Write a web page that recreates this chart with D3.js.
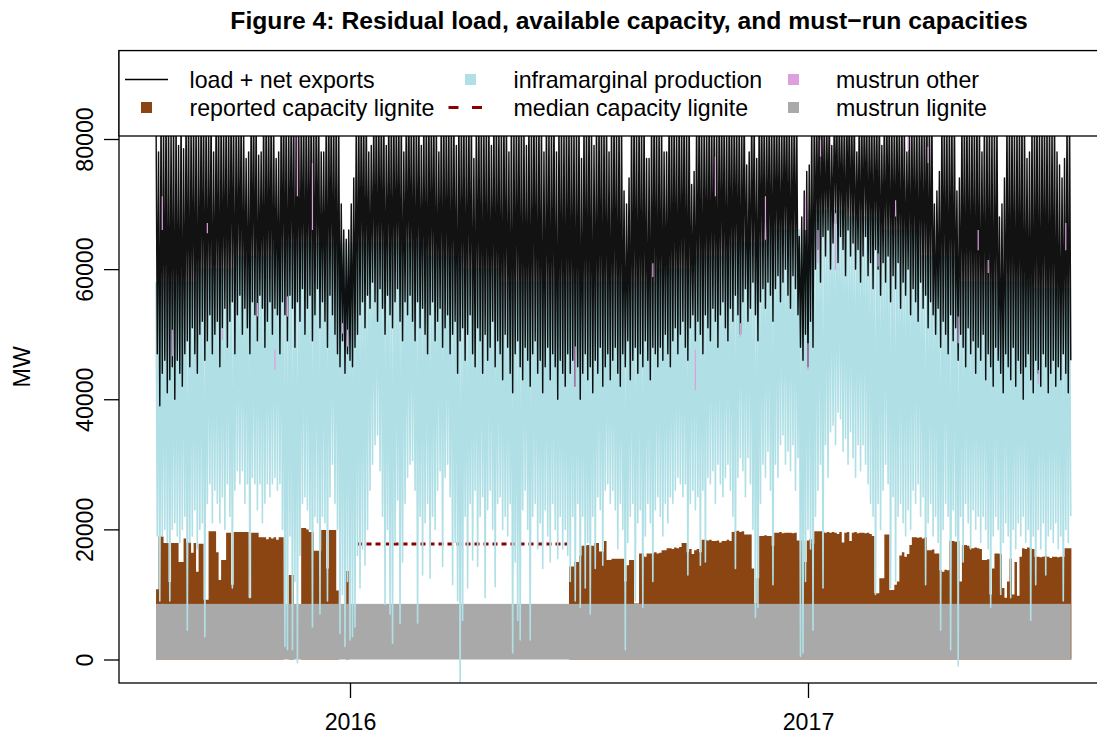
<!DOCTYPE html>
<html>
<head>
<meta charset="utf-8">
<script src="https://cdn.jsdelivr.net/npm/d3@7"></script>
<style>
  body { margin: 0; background: #fff; }
  svg { display: block; font-family: "Liberation Sans", Arial, Helvetica, sans-serif; }
</style>
</head>
<body>
<svg id="chart" width="1097" height="737"></svg>
<script>
// one sample every 2nd day from 2015-07-30, values in GW
var startDate = new Date(Date.UTC(2015, 6, 30));
var stepDays = 2;

// load + net exports: daily peak and daily low
var loadPeak = [
  84, 78, 85, 83, 86, 84, 82, 85, 84, 79,
  85, 78.5, 84, 86, 83, 85, 84, 82, 85, 86,
  84, 83, 85, 78, 84, 86, 85, 83, 84, 85,
  86, 84, 83, 85, 84, 82, 77, 78, 85, 86,
  84, 77.5, 78, 85, 86, 84, 85, 83, 77, 78,
  85, 86, 84, 83, 85, 86, 84, 85, 83, 86,
  85, 84, 86, 83, 85, 84, 78, 78, 84, 86,
  85, 84, 86, 83, 70, 66, 64.6, 66, 70, 74,
  83, 85, 86, 84, 85, 78, 79, 84, 86, 85,
  84, 86, 79, 85, 84, 86, 83, 85, 84, 78,
  85, 86, 84, 85, 83, 86, 79, 84, 85, 86,
  84, 85, 83, 78, 86, 84, 85, 83, 86, 84,
  79, 85, 84, 86, 83, 85, 84, 77, 85, 84,
  86, 83, 85, 84, 79, 85, 86, 83, 84, 85,
  84, 78, 85, 83, 86, 84, 85, 83, 79, 85,
  84, 86, 83, 85, 84, 78, 85, 83, 84, 86,
  78, 84, 85, 83, 86, 84, 85, 83, 84, 85,
  77, 84, 85, 86, 83, 79, 84, 85, 86, 84,
  85, 78, 84, 86, 83, 85, 84, 72, 70, 74,
  84, 86, 83, 85, 84, 85, 77, 77, 84, 86,
  85, 83, 84, 78, 78, 85, 86, 84, 83, 85,
  84, 86, 83, 85, 73, 75, 84, 86, 85, 83,
  84, 85, 86, 83, 84, 85, 86, 84, 83, 85,
  86, 84, 85, 83, 84, 86, 76, 78, 85, 84,
  77, 85, 86, 84, 83, 85, 84, 86, 85, 83,
  84, 85, 86, 84, 83, 85, 84, 65, 68, 72,
  75, 76, 83, 85, 84, 86, 85, 84, 83, 85,
  79, 84, 86, 85, 83, 84, 85, 86, 84, 85,
  78, 85, 84, 86, 83, 85, 84, 85, 83, 86,
  79, 84, 85, 86, 83, 84, 85, 84, 86, 83,
  78, 85, 84, 86, 83, 85, 84, 85, 86, 84,
  85, 70, 72, 75, 84, 86, 83, 85, 84, 85,
  72, 74, 84, 86, 85, 83, 84, 85, 86, 84,
  78, 85, 84, 86, 83, 85, 84, 68, 70, 74,
  84, 86, 85, 83, 84, 85, 86, 84, 77, 78,
  84, 85, 86, 83, 84, 85, 84, 86, 83, 85,
  78, 76, 74, 77, 84, 85
];
var loadLow = [
  47, 39, 44, 46, 41, 43, 45, 40, 46, 44, 42, 47,
  49, 45, 51, 47, 44, 50, 52, 46, 49, 53, 47, 50, 52, 45,
  51, 54, 48, 52, 55, 47, 53, 56, 50, 54, 51, 47, 55, 53, 49, 56, 54, 48, 52, 55, 50, 54, 53, 47, 55,
  53, 49, 56, 54, 48, 55, 52, 57, 50, 54, 56, 49, 53, 57, 51, 55, 52, 48, 56, 53, 50, 47, 45, 49, 44, 47, 46,
  45, 48, 50, 53, 55, 51, 56, 54, 58, 55, 52, 57, 54, 50, 56, 53, 51, 55, 57, 52, 49, 55, 53,
  56, 52, 49, 55, 51, 54, 50, 47, 53, 55, 49, 52, 54, 48, 51, 53, 47, 50, 52, 44, 49, 51, 46, 50, 53, 47, 45, 51, 49, 44,
  50, 46, 48, 52, 45, 49, 47, 43, 50, 48, 44, 41, 47, 49, 45, 43, 48, 46, 42, 47, 49, 44, 46, 41, 45, 48, 43, 47, 45, 40, 46, 44, 42, 47,
  44, 46, 42, 45, 40, 44, 47, 43, 45, 41, 46, 44, 48, 42, 45, 47, 43, 46, 48, 44, 42, 47, 45, 49, 43, 46, 48, 44, 47, 45, 49, 46, 43, 48, 47, 45,
  48, 46, 50, 47, 45, 49, 51, 47, 50, 52, 48, 46, 51, 53, 49, 52, 50, 47, 53, 51, 49, 54, 52, 48, 53, 55, 51, 49, 54, 52,
  56, 53, 50, 55, 57, 52, 54, 58, 53, 49, 55, 57, 54, 58, 56, 52, 57, 59, 55, 58, 60, 56, 54, 59, 57, 53, 48, 46, 50, 45,
  52, 48, 60, 63, 58, 65, 62, 66, 60, 64, 67, 61, 65, 63, 59, 66, 62, 64, 60, 63, 58, 62, 65, 59, 61, 57, 63, 60, 56, 61,
  58, 62, 55, 59, 57, 61, 54, 58, 56, 60, 53, 57, 55, 52, 58, 54, 56, 51, 55, 53, 50, 54, 48, 52, 50, 47, 53, 49, 51, 46,
  50, 48, 45, 51, 47, 49, 44, 48, 46, 50, 43, 47, 45, 42, 48, 46, 44, 41, 47, 45,
  43, 48, 42, 46, 44, 40, 45, 47, 43, 41, 46, 44, 42, 47, 45, 41, 44, 46, 42, 45,
  43, 47, 44, 41, 46
];

// inframarginal production: daily low, and peak by month (Jul 2015 .. Jul 2017)
var inframarginalLow = [
  19, 9, 19, 20, 18, 9, 20, 21, 19, 18,
  20, 22, 4.5, 18, 19, 23, 17, 20, 21, 3.5,
  24, 27, 21, 26, 24, 21, 25, 20, 27, 22,
  11, 26, 29, 27, 29, 24, 27, 9.5, 28, 27,
  23, 27, 21, 24, 27, 25, 27, 28, 26, 27,
  20, 2, 1.5, 19, 1.5, 12, -0.5, 16, 24, 25,
  23, 20, 5, 22, 21, 7, 22, 21, 9, 25,
  30, 24, 20, 4, 10, 2, 12, 3,
  3.5, 5, 16, 11, 17, 14.5, 20, 26, 30, 33,
  34.5, 29, 22, 8.5, 20, 7, 2.5, 18, 24.5, 5.5,
  15, 24, 28, 30, 30.6, 26, 5.6, 22, 13, 21,
  24, 12.5, 22, 20, 26, 29, 14.3, 28, 30, 25,
  11.5, 18, 9, -5, 6, 22, 11, 24, 15.3, 26,
  14.3, 22, 25, 9.5, 23, 26, 20, 11.2, 24, 25,
  20, 22, 19, 24, 1, 15, 6, 3, 23, 26,
  20, 3, 22, 24, 17, 21, 14, 23, 19, 15,
  24, 20, 15.5, 22, 17, 20, 16,
  12, 22, 9, 24, 8, 22, 11, 18, 7, 22,
  14, 25, 23, 14.5, 26, 27, 24, 26, 23, 17,
  24, 20, 1.5, 18, 22, 24, 9, 21, 23, 8,
  19, 24, 21, 12, 23, 25, 22, 19, 24, 21,
  25, 24, 26, 28, 27, 25, 27, 13, 24, 26,
  23, 25, 14.5, 26, 15, 28, 27, 29, 24, 30,
  27, 25, 28, 30, 26, 22, 14, 28, 31, 29,
  25, 31, 27, 20, 6.5, 8, 24, 30, 28, 32,
  26, 11.5, 30, 28, 33, 34.5, 30, 32, 29, 33,
  26, 31, 0.5, 1, 12, 20,
  17, 4.5, 22, 26, 30, 11, 33, 28, 35, 36,
  33, 38, 37, 32, 34, 30, 35, 31, 28, 33,
  29, 33, 30, 27, 24, 22, 10, 24, 20, 26,
  30, 27, 11, 25, 12, 22, 24, 21, 19, 23,
  20, 26, 24, 27, 22, 25, 11.5, 21, 24, 19,
  22, 18, 4.5, 20, 24, 22, 1.5, 23, 19, -1,
  22, 15, 24, 21, 17, 23, 20, 22, 18, 22,
  20, 17, 8, 19, 22, 20, 10, 18, 21, 19,
  9.5, 20, 17, 21, 19, 22, 18, 20, 6, 19,
  11.5, 20, 17, 21, 13, 19, 20, 18, 21, 17,
  19, 9, 20, 18, 22
];
var inframarginalPeakByMonth = [58, 58, 60, 62, 64, 64, 64, 64, 62, 60, 58, 58, 58,
  58, 60, 62, 64, 66, 69, 68, 66, 62, 58, 58, 57];

// mustrun other: streaks that show through the load lines [sample, top, bottom]
var otherSample = [2, 6, 20, 26, 40, 47, 52, 56, 62, 74, 76, 167, 198, 215, 223, 233,
  243, 259, 260, 264, 265, 271, 288, 295, 300, 308, 320, 328, 332, 352, 363];
var otherTop = [71.2, 50.7, 67.1, 50.7, 54.8, 47.6, 55.8, 80.4, 76.3, 51.7, 50.7, 48.1,
  60.9, 47.6, 77.3, 51.7, 71.2, 71.2, 48.6, 66.0, 79.9, 68.6, 62.4, 70.6, 80.4, 78.8,
  52.7, 66.0, 61.4, 44.5, 67.1];
var otherBottom = [66.0, 46.6, 65.5, 49.1, 52.7, 44.5, 52.7, 71.2, 66.0, 50.1, 48.1, 41.9,
  58.8, 41.4, 71.2, 49.6, 64.5, 66.0, 44.5, 60.9, 77.3, 59.9, 60.4, 68.1, 78.3, 76.3,
  48.6, 62.9, 59.4, 42.4, 62.9];

// reported lignite capacity, two reported stretches (first sample 0 and 165)
var capacityFirst = [0, 165];
var capacity2015 = [
  10.8, 18.9, 18.9, 17.9, 17.9, 11.9, 17.9, 17.9, 17.9, 15.0,
  15.0, 18.6, 18.0, 18.0, 16.4, 17.9, 13.5, 17.8, 17.8, 9.2,
  9.2, 19.7, 19.7, 19.7, 16.5, 12.2, 15.3, 15.3, 19.5, 19.5,
  11.5, 19.6, 19.6, 19.6, 19.6, 19.6, 19.6, 9.5, 19.5, 19.5,
  19.5, 18.8, 18.8, 18.8, 18.5, 18.8, 18.6, 18.8, 18.4, 18.8,
  18.8, 0, 0, 13.0, 13.0, 0, 0, 0, 20.2, 20.2,
  20.0, 19.6, 19.6, 16.7, 16.7, 16.7, 19.9, 19.9, 14.0, 19.9,
  19.9, 19.9, 10.6, 0, 0, 0, 13.6, 0
];
var capacity2016 = [
  14.3, 14.3, 15.0, 15.0, 16.0, 17.5, 17.5, 17.6, 17.5, 17.5,
  17.9, 17.9, 16.6, 16.6, 18.2, 15.3, 15.3, 15.5, 15.5, 15.5,
  15.5, 15.5, 12.0, 14.5, 15.3, 15.3, 8.6, 8.6, 16.3, 16.3,
  15.8, 16.3, 16.3, 16.3, 16.5, 16.3, 16.4, 16.8, 16.8, 17.1,
  17.1, 17.0, 17.2, 17.1, 17.3, 17.9, 17.9, 16.5, 17.0, 16.2,
  16.8, 17.0, 16.5, 18.4, 18.4, 18.3, 18.4, 18.2, 18.2, 18.3,
  18.0, 18.2, 18.2, 18.4, 18.2, 19.6, 19.7, 19.8, 19.6, 19.7,
  19.2, 19.2, 19.2, 14.0, 8.6, 12.5, 19.0, 19.0, 19.1, 19.0,
  19.0, 17.5, 19.5, 19.5, 19.6, 19.4, 19.5, 19.5, 19.5, 19.4,
  19.5, 18.3, 18.3, 18.3, 15.0, 18.3, 18.5, 17.8, 19.7, 19.7,
  19.7, 19.7, 19.5, 19.6, 19.5, 19.6, 19.5, 19.3, 19.6, 18.0,
  19.5, 19.6, 18.2, 19.5, 19.6, 19.4, 19.5, 19.5, 19.4, 19.5,
  19.3, 19.0, 10.2, 10.2, 12.5, 12.5, 19.2, 19.2, 10.7, 10.7,
  11.5, 12.0, 16.0, 16.5, 15.8, 16.2, 17.6, 18.8, 18.8, 18.7,
  18.8, 18.6, 18.8, 16.8, 16.8, 16.9, 16.3, 16.3, 13.7, 13.5,
  13.8, 13.7, 18.2, 18.2, 18.1, 18.2, 12.0, 17.6, 17.6, 17.5,
  17.1, 17.1, 17.2, 17.1, 17.0, 15.3, 15.3, 15.4, 10.0, 14.0,
  16.3, 16.3, 16.2, 11.0, 9.5, 12.0, 15.5, 10.0, 15.0, 9.8,
  15.8, 17.1, 17.0, 17.2, 17.1, 17.0, 15.8, 15.8, 15.7, 15.8,
  15.9, 15.8, 15.6, 15.8, 15.8, 15.7, 15.8, 15.8, 17.1, 17.1,
  17.1
];
var medianCapacity = 17.75;
var medianDays = [161, 329];
var mustrunLignite = 8.55;

var yTicks = [0, 20000, 40000, 60000, 80000];
var xTicks = [new Date(Date.UTC(2016, 0, 1)), new Date(Date.UTC(2017, 0, 1))];

var DAY = 864e5;
function dayDate(d){ return new Date(+startDate + d * DAY); }

var svg = d3.select('#chart');
var boxLeft = 119, boxRight = 1139, boxTop = 50.6, boxBottom = 683;

var x = d3.scaleUtc().domain(xTicks).range([350, 808]);
var y = d3.scaleLinear().domain([0, 80000]).range([659.5, 139]);
var gw = function(v){ return y(v * 1000); };

svg.append('clipPath').attr('id', 'plotclip')
  .append('rect').attr('x', boxLeft).attr('y', boxTop)
  .attr('width', boxRight - boxLeft).attr('height', boxBottom - boxTop);
var plot = svg.append('g').attr('clip-path', 'url(#plotclip)');

var nSamples = loadLow.length;
var lastDay = (nSamples - 1) * stepDays + 1;

// reported capacity lignite (brown steps)
var capArea = d3.area().curve(d3.curveStepAfter)
  .x(function(d){ return x(d[0]); })
  .y0(y(0))
  .y1(function(d){ return gw(d[1]); });
[capacity2015, capacity2016].forEach(function(vals, k){
  var first = capacityFirst[k];
  var pts = vals.map(function(v, j){ return [dayDate((first + j) * stepDays), v]; });
  pts.push([dayDate((first + vals.length - 1) * stepDays + 1.5), vals[vals.length - 1]]);
  plot.append('path').attr('d', capArea(pts)).attr('fill', '#8B4513');
});

// mustrun lignite (grey)
plot.append('rect')
  .attr('x', x(dayDate(0)))
  .attr('width', x(dayDate(lastDay)) - x(dayDate(0)))
  .attr('y', gw(mustrunLignite))
  .attr('height', y(0) - gw(mustrunLignite))
  .attr('fill', '#A9A9A9');

// median capacity lignite
plot.append('line')
  .attr('x1', x(dayDate(medianDays[0]))).attr('x2', x(dayDate(medianDays[1])))
  .attr('y1', gw(medianCapacity)).attr('y2', gw(medianCapacity))
  .attr('stroke', '#8B0000').attr('stroke-width', 3).attr('stroke-dasharray', '5,4');

function monthIndex(d){ return (d.getUTCFullYear() - 2015) * 12 + d.getUTCMonth() - 6; }

function zigzag(low, peakOf){
  var pts = [];
  for (var i = 0; i < low.length; i++) {
    var t = i * stepDays;
    pts.push([dayDate(t), peakOf(i, dayDate(t))]);
    pts.push([dayDate(t + 1), low[i]]);
  }
  return pts;
}
var line = d3.line().x(function(d){ return x(d[0]); }).y(function(d){ return gw(d[1]); });

// inframarginal production
plot.append('path')
  .attr('d', line(zigzag(inframarginalLow, function(i, d){ return inframarginalPeakByMonth[monthIndex(d)]; })))
  .attr('fill', 'none').attr('stroke', '#B0E0E6').attr('stroke-width', 1.6)
  .attr('stroke-linejoin', 'round');

// load + net exports
plot.append('path')
  .attr('d', line(zigzag(loadLow, function(i){ return loadPeak[i]; })))
  .attr('fill', 'none').attr('stroke', '#000').attr('stroke-width', 1.45)
  .attr('stroke-opacity', 0.93).attr('stroke-linejoin', 'round');

// mustrun other streaks
plot.selectAll('line.other')
  .data(otherSample)
  .enter().append('line')
  .attr('class', 'other')
  .attr('x1', function(s){ return x(dayDate(s * stepDays + 1)); })
  .attr('x2', function(s){ return x(dayDate(s * stepDays + 1)); })
  .attr('y1', function(s, k){ return gw(otherTop[k]); })
  .attr('y2', function(s, k){ return gw(otherBottom[k]); })
  .attr('stroke', '#DDA0DD').attr('stroke-width', 1.2);

// box
svg.append('rect')
  .attr('x', boxLeft).attr('y', boxTop).attr('width', boxRight - boxLeft).attr('height', boxBottom - boxTop)
  .attr('fill', 'none').attr('stroke', '#000').attr('stroke-width', 1.3);

// axes
var yAxis = svg.append('g').attr('transform', 'translate(' + boxLeft + ',0)')
  .call(d3.axisLeft(y).tickValues(yTicks).tickSize(15).tickFormat(d3.format('d')));
yAxis.select('.domain').remove();
yAxis.selectAll('line').attr('stroke-width', 1.3);
yAxis.selectAll('text')
  .attr('x', null).attr('dy', null)
  .attr('transform', 'translate(-26,0) rotate(-90)')
  .attr('text-anchor', 'middle')
  .attr('font-size', 23.2).attr('font-family', null).attr('fill', '#000');

var xAxis = svg.append('g').attr('transform', 'translate(0,' + boxBottom + ')')
  .call(d3.axisBottom(x).tickValues(xTicks).tickSize(15).tickFormat(d3.utcFormat('%Y')));
xAxis.select('.domain').remove();
xAxis.selectAll('line').attr('stroke-width', 1.3);
xAxis.selectAll('text')
  .attr('y', 47).attr('dy', null)
  .attr('font-size', 23.2).attr('font-family', null).attr('fill', '#000');

svg.append('text')
  .attr('transform', 'translate(30,' + ((boxTop + boxBottom) / 2) + ') rotate(-90)')
  .attr('text-anchor', 'middle').attr('font-size', 23.2)
  .text('MW');

svg.append('text')
  .attr('x', (boxLeft + boxRight) / 2).attr('y', 29)
  .attr('text-anchor', 'middle').attr('font-size', 24.7).attr('font-weight', 'bold')
  .text('Figure 4: Residual load, available capacity, and must\u2212run capacities');

// legend
var legendNames = ['load + net exports', 'inframarginal production', 'mustrun other',
  'reported capacity lignite', 'median capacity lignite', 'mustrun lignite'];
var legendKinds = ['line', 'square', 'square', 'square', 'dash', 'square'];
var legendColors = ['#000', '#B0E0E6', '#DDA0DD', '#8B4513', '#8B0000', '#A9A9A9'];
var colText = [189.5, 513.5, 836];
var colSym = [146.5, 470.5, 793.5];
var rowBase = [88, 116];

svg.append('rect')
  .attr('x', boxLeft).attr('y', boxTop).attr('width', boxRight - boxLeft).attr('height', 136 - boxTop)
  .attr('fill', '#fff').attr('stroke', '#000').attr('stroke-width', 1.3);

var leg = svg.append('g');
legendNames.forEach(function(name, k){
  var col = k % 3, row = Math.floor(k / 3);
  var cy = rowBase[row] - 8.5;
  var cx = colSym[col];
  if (legendKinds[k] === 'line') {
    leg.append('line').attr('x1', cx - 21.5).attr('x2', cx + 21.5).attr('y1', cy).attr('y2', cy)
      .attr('stroke', legendColors[k]).attr('stroke-width', 1.3);
  } else if (legendKinds[k] === 'dash') {
    leg.append('line').attr('x1', cx - 22).attr('x2', cx + 12).attr('y1', cy).attr('y2', cy)
      .attr('stroke', legendColors[k]).attr('stroke-width', 3).attr('stroke-dasharray', '10,13.5');
  } else {
    leg.append('rect').attr('x', cx - 5.5).attr('y', cy - 5.5).attr('width', 11).attr('height', 11)
      .attr('fill', legendColors[k]);
  }
  leg.append('text').attr('x', colText[col]).attr('y', rowBase[row])
    .attr('font-size', 23.2).text(name);
});
</script>
</body>
</html>
